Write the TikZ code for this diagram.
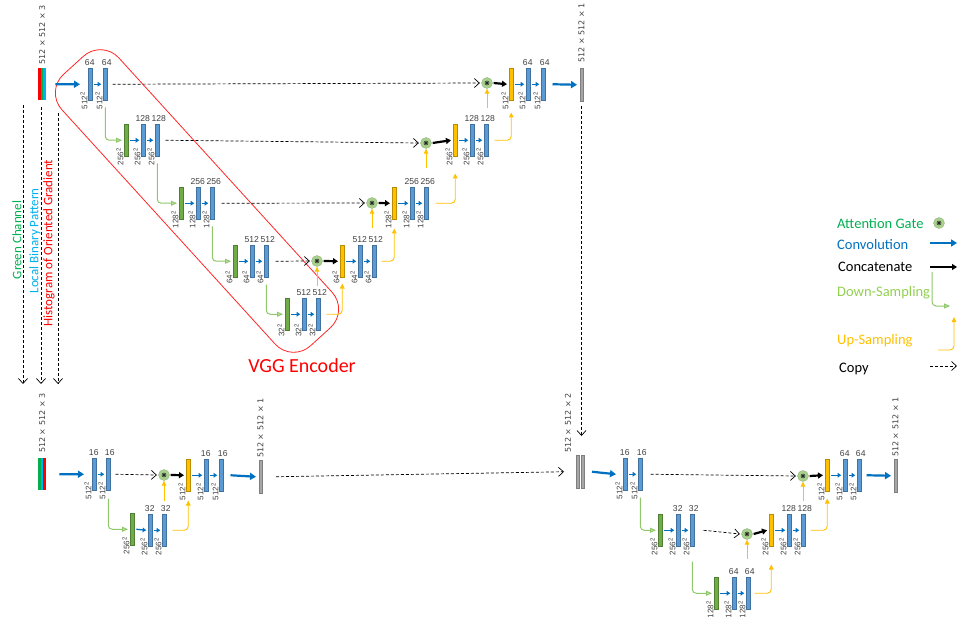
\documentclass[tikz,border=0pt]{standalone}
\usepackage{fontspec}
\setmainfont{Carlito}
\newfontfamily\numfont{Liberation Sans}
\newfontfamily\shpfont{DejaVu Sans}
\usetikzlibrary{arrows.meta,calc}
\definecolor{barblue}{HTML}{5B9BD5}
\definecolor{barblueD}{HTML}{41719C}
\definecolor{bargreen}{HTML}{70AD47}
\definecolor{bargreenD}{HTML}{507E32}
\definecolor{baryel}{HTML}{FFC000}
\definecolor{baryelD}{HTML}{BC8C00}
\definecolor{bargrey}{HTML}{A6A6A6}
\definecolor{bargreyD}{HTML}{7F7F7F}
\definecolor{convc}{HTML}{0070C0}
\definecolor{downc}{HTML}{8FC76A}
\definecolor{upc}{HTML}{FFC000}
\definecolor{gatec}{HTML}{A9D18E}
\definecolor{txtgreen}{HTML}{00B050}
\definecolor{txtcyan}{HTML}{00B0F0}
\definecolor{txtlgreen}{HTML}{92D050}
\definecolor{txtred}{HTML}{FF0000}
\definecolor{numc}{HTML}{404040}
% optional #1: horizontal shift of the top label
\newcommand{\mkbar}[7][0]{%
  \node[#2] (#3) at (#4,#5) {};
  \if\relax\detokenize{#6}\relax\else\node[numlbl, anchor=south] at ([xshift=#1pt,yshift=2.5pt]#3.north) {#6};\fi
  \if\relax\detokenize{#7}\relax\else\node[dimlbl] at ([xshift=-4pt]#3.south west) {#7\textsuperscript{2}};\fi
}
\tikzset{
  bar/.style={rectangle, inner sep=0pt, minimum width=4pt, minimum height=32pt, anchor=north west, line width=0.5pt},
  bluebar/.style={bar, fill=barblue, draw=barblueD},
  greenbar/.style={bar, fill=bargreen, draw=bargreenD},
  yelbar/.style={bar, fill=baryel, draw=baryelD},
  greybar/.style={bar, minimum width=2.5pt, minimum height=33pt, fill=bargrey, draw=bargreyD},
  numlbl/.style={font=\numfont\fontsize{8.6}{9}\selectfont, text=numc, inner sep=0pt},
  dimlbl/.style={font=\numfont\fontsize{8}{9}\selectfont, rotate=90, inner sep=0pt, text=numc},
  shapelbl/.style={font=\shpfont\fontsize{8}{9}\selectfont, rotate=90, anchor=west, inner sep=0pt, text=numc},
  convbig/.style={draw=convc, line width=2.2pt, -{Triangle[length=6pt,width=7pt]}},
  convsmall/.style={draw=convc, line width=1.3pt, -{Triangle[length=3.5pt,width=4.5pt]}},
  concat/.style={draw=black, line width=2.2pt, -{Triangle[length=5pt,width=6pt]}},
  downs/.style={draw=downc, line width=1pt, rounded corners=4pt, -{Triangle[length=6pt,width=5pt,fill=gatec!60]}},
  ups/.style={draw=upc, line width=0.9pt, rounded corners=4pt, -{Triangle[length=5pt,width=4.5pt]}},
  copyarr/.style={draw=black, line width=0.7pt, dash pattern=on 3pt off 2pt, -{Straight Barb[length=5pt,width=9pt]}},
  gate/.style={circle, fill=gatec, draw=gatec!80!black, line width=0.3pt, minimum size=11pt, inner sep=0pt,
    path picture={\draw[line width=0.6pt, black!85] (path picture bounding box.center) +(-2.4pt,0) -- +(2.4pt,0) +(0,-2.4pt) -- +(0,2.4pt) +(-1.7pt,-1.7pt) -- +(1.7pt,1.7pt) +(-1.7pt,1.7pt) -- +(1.7pt,-1.7pt);}},
  legtxt/.style={font=\fontsize{14.5}{16}\selectfont, anchor=west, inner sep=0pt},
  chantxt/.style={font=\fontsize{13}{15}\selectfont, rotate=90, inner sep=0pt},
  inbox/.style={inner sep=0pt, minimum width=8pt, minimum height=32pt, anchor=north west}
}
\begin{document}
\begin{tikzpicture}[x=1pt,y=-1pt]
\useasboundingbox (0,0) rectangle (957,617);
% ---------------- VGG encoder frame ----------------
\node[draw=txtred!85, line width=0.8pt, rounded corners=25pt, minimum width=367pt, minimum height=77pt, rotate=-47.7] (vgg) at (197,201) {};
\node[font=\fontsize{20}{22}\selectfont, text=txtred, inner sep=0pt] (vggl) at (302,366) {VGG Encoder};
% ---------------- top network ----------------
\node[inbox] (I1) at (38,68) {};
\fill[txtred] (I1.north west) rectangle ([xshift=2.7pt]I1.south west);
\fill[txtgreen] ([xshift=2.7pt]I1.north west) rectangle ([xshift=5.3pt]I1.south west);
\fill[txtcyan] ([xshift=5.3pt]I1.north west) rectangle (I1.south east);
\node[shapelbl] (I1l) at ([yshift=3pt]I1.north) {512 × 512 × 3};
\mkbar[-0.5]{bluebar}{E1a}{88}{68}{64}{512}
\mkbar[1.5]{bluebar}{E1b}{103}{68}{64}{512}
\mkbar{greenbar}{E2g}{124}{124}{}{256}
\mkbar[-0.5]{bluebar}{E2a}{141}{124}{128}{256}
\mkbar[1.5]{bluebar}{E2b}{155}{124}{128}{256}
\mkbar{greenbar}{E3g}{179}{187}{}{128}
\mkbar[-0.5]{bluebar}{E3a}{196}{187}{256}{128}
\mkbar[1.5]{bluebar}{E3b}{210}{187}{256}{128}
\mkbar{greenbar}{E4g}{233}{245}{}{64}
\mkbar[-0.5]{bluebar}{E4a}{250}{245}{512}{64}
\mkbar[1.5]{bluebar}{E4b}{264}{245}{512}{64}
\mkbar{greenbar}{E5g}{285}{298}{}{32}
\mkbar[-0.5]{bluebar}{E5a}{302}{298}{512}{32}
\mkbar[1.5]{bluebar}{E5b}{316}{298}{512}{32}
\node[gate] (G4) at (317,261) {};
\mkbar{yelbar}{D4y}{340}{245}{}{64}
\mkbar[-0.5]{bluebar}{D4a}{358}{245}{512}{64}
\mkbar[1.5]{bluebar}{D4b}{372}{245}{512}{64}
\node[gate] (G3) at (372,203) {};
\mkbar{yelbar}{D3y}{392}{187}{}{128}
\mkbar[-0.5]{bluebar}{D3a}{410}{187}{256}{128}
\mkbar[1.5]{bluebar}{D3b}{424}{187}{256}{128}
\node[gate] (G2) at (426,143) {};
\mkbar{yelbar}{D2y}{453}{124}{}{256}
\mkbar[-0.5]{bluebar}{D2a}{470}{124}{128}{256}
\mkbar[1.5]{bluebar}{D2b}{484}{124}{128}{256}
\node[gate] (G1) at (487,83) {};
\mkbar{yelbar}{D1y}{509}{68}{}{512}
\mkbar[-0.5]{bluebar}{D1a}{526}{68}{64}{512}
\mkbar[1.5]{bluebar}{D1b}{541}{68}{64}{512}
\node[greybar] (O1) at (580,68) {};
\node[shapelbl] (O1l) at ([yshift=5pt]O1.north) {512 × 512 × 1};
% connectors top
\draw[convbig] ([xshift=9pt]I1.east) -- ([xshift=-8pt]E1a.west);
\foreach \a/\b in {E1a/E1b,E2g/E2a,E2a/E2b,E3g/E3a,E3a/E3b,E4g/E4a,E4a/E4b,E5g/E5a,E5a/E5b,D4y/D4a,D4a/D4b,D3y/D3a,D3a/D3b,D2y/D2a,D2a/D2b,D1y/D1a,D1a/D1b}
  \draw[convsmall] ([xshift=1.8pt]\a.east) -- ([xshift=-1.8pt]\b.west);
\draw[copyarr] ([xshift=5pt]E1b.east) -- ([xshift=-1.5pt]G1.west);
\draw[copyarr] ([xshift=6pt]E2b.east) -- ([xshift=-1.5pt]G2.west);
\draw[copyarr] ([xshift=7pt]E3b.east) -- ([xshift=-1.5pt]G3.west);
\draw[copyarr] ([xshift=7pt]E4b.east) -- ([xshift=-1.5pt]G4.west);
\draw[downs] ([yshift=-7pt]E1b.south) |- ([xshift=-2pt]E2g.west);
\draw[downs] ([yshift=-7pt]E2b.south) |- ([xshift=-2pt]E3g.west);
\draw[downs] ([yshift=-7pt]E3b.south) |- ([xshift=-2pt]E4g.west);
\draw[downs] ([yshift=-7pt]E4b.south) |- ([xshift=-2pt]E5g.west);
\draw[ups] ([xshift=6pt]E5b.east) -| ([yshift=-6pt]D4y.south);
\draw[ups] ([xshift=5pt]D4b.east) -| ([yshift=-9pt]D3y.south);
\draw[ups] ([xshift=7pt]D3b.east) -| ([yshift=-17pt]D2y.south);
\draw[ups] ([xshift=6pt]D2b.east) -| ([yshift=-12pt]D1y.south);
\foreach \g in {G1,G2,G3,G4}{
  \draw[ups] ([yshift=-19pt]\g.south) -- (\g.south);
  }
\draw[concat] ([xshift=1pt]G1.east) -- ([xshift=-2pt]D1y.west);
\draw[concat] ([xshift=1pt]G2.east) -- ([xshift=-2pt]D2y.west);
\draw[concat] ([xshift=1pt]G3.east) -- ([xshift=-2pt]D3y.west);
\draw[concat] ([xshift=1pt]G4.east) -- ([xshift=-2pt]D4y.west);
\draw[convbig] ([xshift=7pt]D1b.east) -- ([xshift=-3pt]O1.west);
% ---------------- channel copies ----------------
\coordinate (cg1) at (23,105); \coordinate (cg2) at (23,384);
\coordinate (cl1) at (41,107); \coordinate (cl2) at (41,384);
\coordinate (ch1) at (58,113); \coordinate (ch2) at (58,384);
\draw[copyarr] (cg1) -- (cg2);
\draw[copyarr] (cl1) -- (cl2);
\draw[copyarr] (ch1) -- (ch2);
\node[chantxt, text=txtgreen] (tg) at (17,240) {Green Channel};
\node[chantxt, text=txtcyan] (tl) at (35,241) {Local Binary Pattern};
\node[chantxt, text=txtred] (th) at (49,243) {Histogram of Oriented Gradient};
% ---------------- bottom-left network ----------------
\node[inbox] (I2) at (38,458) {};
\fill[txtgreen] (I2.north west) rectangle ([xshift=2.7pt]I2.south west);
\fill[txtcyan] ([xshift=2.7pt]I2.north west) rectangle ([xshift=5.3pt]I2.south west);
\fill[txtred] ([xshift=5.3pt]I2.north west) rectangle (I2.south east);
\node[shapelbl] (I2l) at ([yshift=5pt]I2.north) {512 × 512 × 3};
\mkbar[-0.5]{bluebar}{B1a}{92}{458}{16}{512}
\mkbar[1.5]{bluebar}{B1b}{106}{458}{16}{512}
\mkbar{greenbar}{B2g}{130}{513}{}{256}
\mkbar[-0.5]{bluebar}{B2a}{148}{514}{32}{256}
\mkbar[1.5]{bluebar}{B2b}{162}{514}{32}{256}
\node[gate] (GB) at (164,475) {};
\mkbar{yelbar}{B1y}{186}{459}{}{512}
\mkbar[-0.5]{bluebar}{B1c}{204}{459}{16}{512}
\mkbar[1.5]{bluebar}{B1d}{219}{459}{16}{512}
\node[greybar] (O2) at (259,460) {};
\node[shapelbl] (O2l) at ([yshift=2pt]O2.north) {512 × 512 × 1};
\draw[convbig] ([xshift=13pt]I2.east) -- ([xshift=-8pt]B1a.west);
\foreach \a/\b in {B1a/B1b,B2g/B2a,B2a/B2b,B1y/B1c,B1c/B1d}
  \draw[convsmall] ([xshift=1.8pt]\a.east) -- ([xshift=-1.8pt]\b.west);
\draw[copyarr] ([xshift=5pt]B1b.east) -- ([xshift=-1.5pt]GB.west);
\draw[downs] ([yshift=-8pt]B1b.south) |- ([xshift=-2pt]B2g.west);
\draw[ups] ([xshift=6pt]B2b.east) -| ([yshift=-9pt]B1y.south);
\draw[ups] ([yshift=-20pt]GB.south) -- (GB.south);
\draw[concat] ([xshift=1pt]GB.east) -- ([xshift=-2pt]B1y.west);
\draw[convbig] ([xshift=7pt]B1d.east) -- ([xshift=-3pt]O2.west);
% ---------------- bottom-right network ----------------
\node[greybar] (I3a) at (576,455) {};
\node[greybar] (I3b) at (581,455) {};
\node[shapelbl] (I3l) at (568,453) {512 × 512 × 2};
\draw[copyarr] ([xshift=14pt]O2.east) -- ([xshift=-12pt]I3a.west);
\coordinate (c3) at (O1.south |- I3b.north);
\draw[copyarr] ([yshift=-5pt]O1.south) -- ([yshift=19pt]c3);
\mkbar[-0.5]{bluebar}{R1a}{623}{458}{16}{512}
\mkbar[1.5]{bluebar}{R1b}{638}{458}{16}{512}
\mkbar{greenbar}{R2g}{658}{514}{}{256}
\mkbar[-0.5]{bluebar}{R2a}{676}{514}{32}{256}
\mkbar[1.5]{bluebar}{R2b}{690}{514}{32}{256}
\mkbar{greenbar}{R3g}{714}{577}{}{128}
\mkbar[-0.5]{bluebar}{R3a}{732}{577}{64}{128}
\mkbar[1.5]{bluebar}{R3b}{746}{577}{64}{128}
\node[gate] (GR2) at (747,534) {};
\mkbar{yelbar}{R2y}{769}{514}{}{256}
\mkbar[-0.5]{bluebar}{R2c}{787}{514}{128}{256}
\mkbar[1.5]{bluebar}{R2d}{801}{514}{128}{256}
\node[gate] (GR1) at (803,476) {};
\mkbar{yelbar}{R1y}{825}{459}{}{512}
\mkbar[-0.5]{bluebar}{R1c}{843}{459}{64}{512}
\mkbar[1.5]{bluebar}{R1d}{857}{459}{64}{512}
\node[greybar] (O3) at (894,459) {};
\node[shapelbl] (O3l) at ([yshift=2pt]O3.north) {512 × 512 × 1};
\draw[convbig] ([xshift=8pt]I3b.east) -- ([xshift=-7pt]R1a.west);
\foreach \a/\b in {R1a/R1b,R2g/R2a,R2a/R2b,R3g/R3a,R3a/R3b,R2y/R2c,R2c/R2d,R1y/R1c,R1c/R1d}
  \draw[convsmall] ([xshift=1.8pt]\a.east) -- ([xshift=-1.8pt]\b.west);
\draw[copyarr] ([xshift=8pt]R1b.east) -- ([xshift=-1.5pt]GR1.west);
\draw[copyarr] ([xshift=9pt]R2b.east) -- ([xshift=-1.5pt]GR2.west);
\draw[downs] ([yshift=-7pt]R1b.south) |- ([xshift=-2pt]R2g.west);
\draw[downs] ([yshift=-15pt]R2b.south) |- ([xshift=-2pt]R3g.west);
\draw[ups] ([xshift=4pt]R3b.east) -| ([yshift=-18pt]R2y.south);
\draw[ups] ([xshift=5pt]R2d.east) -| ([yshift=-7pt]R1y.south);
\draw[ups] ([yshift=-19pt]GR1.south) -- (GR1.south);
\draw[ups] ([yshift=-19pt]GR2.south) -- (GR2.south);
\draw[concat] ([xshift=1pt]GR1.east) -- ([xshift=-2pt]R1y.west);
\draw[concat] ([xshift=1pt]GR2.east) -- ([xshift=-2pt]R2y.west);
\draw[convbig] ([xshift=5pt]R1d.east) -- ([xshift=-3pt]O3.west);
% ---------------- legend ----------------
\node[legtxt, text=txtgreen] (lgA) at (837,224) {Attention Gate};
\node[gate] (lgAg) at (939,223) {};
\node[legtxt, text=convc] (lgC) at (837,245) {Convolution};
\coordinate (lgC1) at (930,243); \coordinate (lgC2) at (957,243);
\draw[convbig, line width=1.8pt] (lgC1) -- (lgC2);
\node[legtxt, text=black] (lgK) at (838,267) {Concatenate};
\coordinate (lgK1) at (930,267); \coordinate (lgK2) at (957,267);
\draw[concat] (lgK1) -- (lgK2);
\node[legtxt, text=txtlgreen] (lgD) at (837,293) {Down-Sampling};
\coordinate (lgD1) at (932,272); \coordinate (lgD2) at (950,306);
\draw[downs] (lgD1) |- (lgD2);
\node[legtxt, text=upc] (lgU) at (837,341) {Up-Sampling};
\coordinate (lgU1) at (938,350); \coordinate (lgU2) at (954,317);
\draw[ups] (lgU1) -| (lgU2);
\node[legtxt, text=black] (lgP) at (839,369) {Copy};
\coordinate (lgP1) at (930,366); \coordinate (lgP2) at (957,366);
\draw[copyarr] (lgP1) -- (lgP2);
\end{tikzpicture}
\end{document}
